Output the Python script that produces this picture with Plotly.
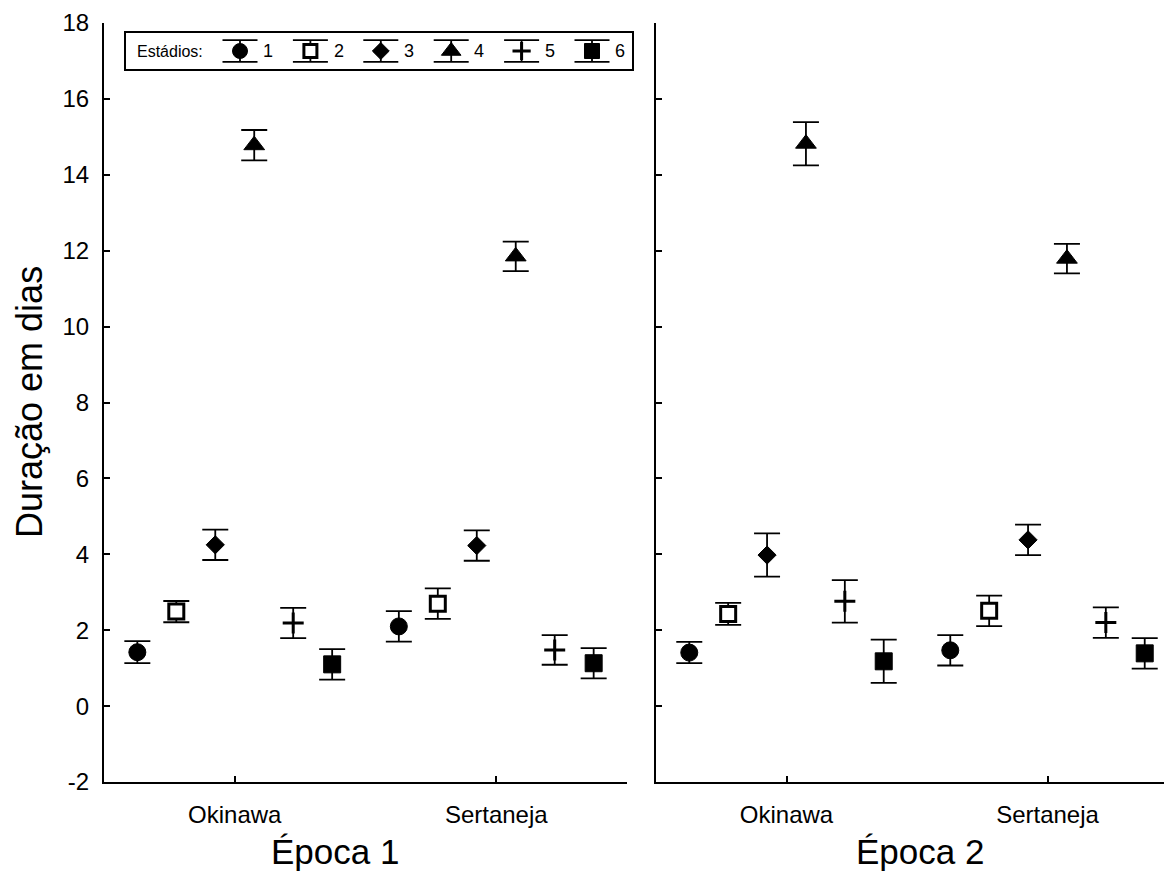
import plotly.graph_objects as go

# ---------------- data ----------------
sites = ["Okinawa", "Sertaneja"]
stages = ["1", "2", "3", "4", "5", "6"]

epoca1_mean = {
    "1": [1.42, 2.10],
    "2": [2.49, 2.70],
    "3": [4.25, 4.23],
    "4": [14.78, 11.85],
    "5": [2.19, 1.48],
    "6": [1.10, 1.13],
}
epoca1_err = {
    "1": [0.29, 0.40],
    "2": [0.28, 0.40],
    "3": [0.40, 0.40],
    "4": [0.40, 0.39],
    "5": [0.40, 0.39],
    "6": [0.40, 0.40],
}
epoca2_mean = {
    "1": [1.41, 1.47],
    "2": [2.43, 2.51],
    "3": [3.98, 4.38],
    "4": [14.82, 11.79],
    "5": [2.76, 2.20],
    "6": [1.18, 1.39],
}
epoca2_err = {
    "1": [0.28, 0.40],
    "2": [0.29, 0.40],
    "3": [0.57, 0.40],
    "4": [0.57, 0.39],
    "5": [0.56, 0.40],
    "6": [0.57, 0.40],
}
panel_titles = ["Época 1", "Época 2"]
y_title = "Duração em dias"
legend_title = "Estádios:"
y_ticks = [-2, 0, 2, 4, 6, 8, 10, 12, 14, 16, 18]
y_ticktext = [str(v) for v in y_ticks]

# ---------------- styles ----------------
W, H = 1164, 883
FONT = "Liberation Sans, Arial, sans-serif"
marker_styles = {
    "1": dict(symbol="circle", size=17, color="black", line=dict(color="black", width=1)),
    "2": dict(symbol="square", size=15, color="white", line=dict(color="black", width=3)),
    "3": dict(symbol="diamond", size=14, color="black", line=dict(color="black", width=1)),
    "4": dict(symbol="triangle-up", size=18, color="black", line=dict(color="black", width=1)),
    "5": dict(symbol="cross-thin-open", size=15, color="black", line=dict(color="black", width=3)),
    "6": dict(symbol="square", size=17, color="black", line=dict(color="black", width=1)),
}
legend_marker_styles = {
    "1": dict(symbol="circle", size=15, color="black", line=dict(color="black", width=1)),
    "2": dict(symbol="square", size=13, color="white", line=dict(color="black", width=3)),
    "3": dict(symbol="diamond", size=13, color="black", line=dict(color="black", width=1)),
    "4": dict(symbol="triangle-up", size=17, color="black", line=dict(color="black", width=1)),
    "5": dict(symbol="cross-thin-open", size=13, color="black", line=dict(color="black", width=3)),
    "6": dict(symbol="square", size=15, color="black", line=dict(color="black", width=1)),
}
step = 0.149  # horizontal spacing between stages within a site

fig = go.Figure()

panels = [(epoca1_mean, epoca1_err, "x", "y"), (epoca2_mean, epoca2_err, "x2", "y2")]
for means, errs, xa, ya in panels:
    for k, st in enumerate(stages):
        xs = [i + (k - 2.5) * step for i in range(len(sites))]
        fig.add_trace(go.Scatter(
            x=xs, y=means[st], xaxis=xa, yaxis=ya, mode="markers",
            marker=marker_styles[st], showlegend=False,
            error_y=dict(type="data", array=errs[st], color="black", thickness=1.8, width=13),
        ))

# legend drawn on an auxiliary axis
for k, st in enumerate(stages):
    fig.add_trace(go.Scatter(
        x=[k + 1], y=[0], xaxis="x3", yaxis="y3", mode="markers",
        marker=legend_marker_styles[st], showlegend=False,
        error_y=dict(type="data", array=[0.6], color="black", thickness=1.8, width=17.5),
    ))
    fig.add_annotation(x=k + 1.3, y=0, xref="x3", yref="y3", text=st, showarrow=False,
                       xanchor="left", yanchor="middle", font=dict(size=18, color="black", family=FONT))
fig.add_annotation(x=0.5, y=0, xref="x3", yref="y3", text=legend_title, showarrow=False,
                   xanchor="right", yanchor="middle", font=dict(size=16, color="black", family=FONT))

# ---------------- layout ----------------
def px_x(p):
    return p / W

def px_y(p):
    return 1 - p / H

ydom = [px_y(782), px_y(23)]
axis_common = dict(showgrid=False, zeroline=False, showline=True, linecolor="black", linewidth=2,
                   ticks="inside", ticklen=6, tickwidth=1.5, tickcolor="black", automargin=False,
                   tickfont=dict(size=24, color="black", family=FONT))
aux_common = dict(showgrid=False, zeroline=False, showticklabels=False, ticks="", automargin=False,
                  showline=True, mirror=True, linecolor="black", linewidth=1.5, fixedrange=True)

fig.update_layout(
    template="none",
    width=W, height=H, margin=dict(l=0, r=0, t=0, b=0, autoexpand=False),
    paper_bgcolor="white", plot_bgcolor="white",
    font=dict(family=FONT, color="black"),
    xaxis=dict(domain=[px_x(104), px_x(627)], range=[-0.5, 1.5], anchor="y",
               tickvals=[0, 1], ticktext=sites, ticklabelstandoff=10, **axis_common),
    yaxis=dict(domain=ydom, range=[-2, 18], anchor="x", tickvals=y_ticks, ticktext=y_ticktext,
               ticklabelstandoff=8, **axis_common),
    xaxis2=dict(domain=[px_x(656), 1.0], range=[-0.5, -0.5 + (W - 656) / 261.0], anchor="y2",
                tickvals=[0, 1], ticktext=sites, ticklabelstandoff=10, **axis_common),
    yaxis2=dict(domain=ydom, range=[-2, 18], anchor="x2", tickvals=y_ticks,
                showticklabels=False, **axis_common),
    xaxis3=dict(domain=[px_x(126), px_x(632)], range=[1 - 114 / 70.4, 6 + 40 / 70.4], anchor="y3",
                **aux_common),
    yaxis3=dict(domain=[px_y(69), px_y(33)], range=[-1, 1], anchor="x3", **aux_common),
)

fig.add_annotation(x=px_x(335), y=px_y(851), xref="paper", yref="paper", text=panel_titles[0],
                   showarrow=False, xanchor="center", yanchor="middle",
                   font=dict(size=35, color="black", family=FONT))
fig.add_annotation(x=px_x(920), y=px_y(851), xref="paper", yref="paper", text=panel_titles[1],
                   showarrow=False, xanchor="center", yanchor="middle",
                   font=dict(size=35, color="black", family=FONT))
fig.add_annotation(x=px_x(30), y=px_y(402), xref="paper", yref="paper", text=y_title,
                   showarrow=False, textangle=-90, xanchor="center", yanchor="middle",
                   font=dict(size=36, color="black", family=FONT))

fig.write_html("out.html")
